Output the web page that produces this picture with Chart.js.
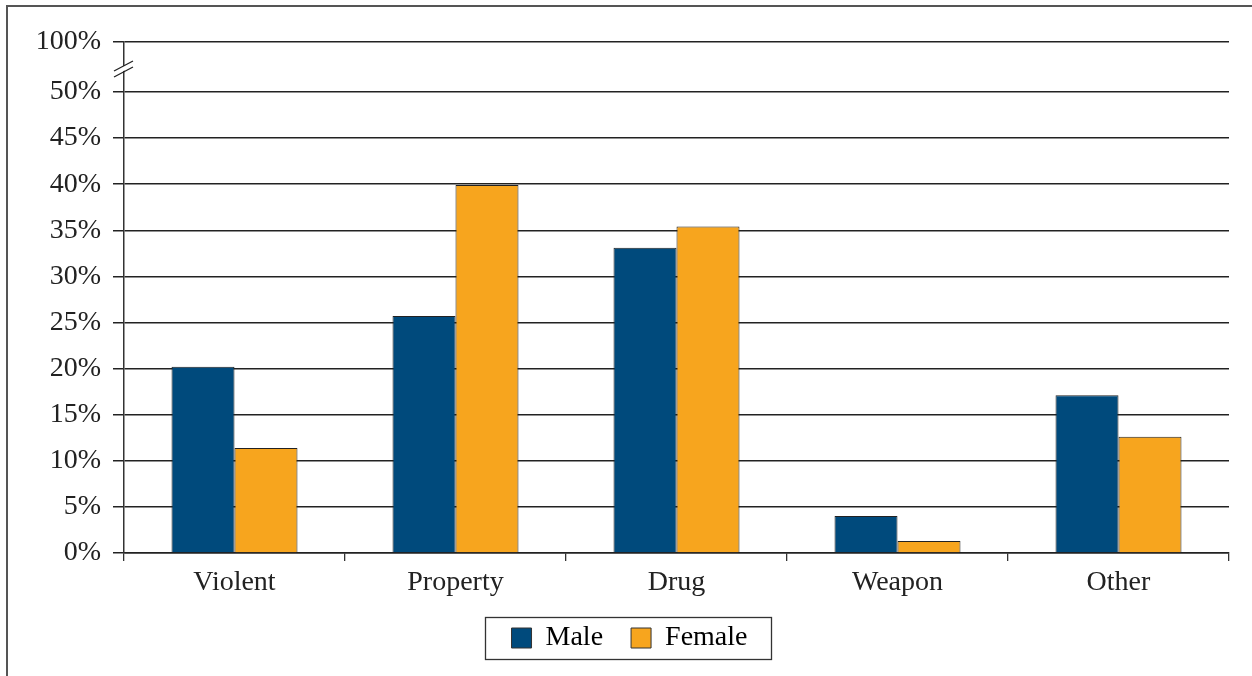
<!DOCTYPE html>
<html>
<head>
<meta charset="utf-8">
<script src="https://cdn.jsdelivr.net/npm/chart.js@4.4.1/dist/chart.umd.min.js"></script>
<style>
  html, body { margin: 0; padding: 0; background: #fff; }
  #wrap { width: 1252px; height: 676px; position: relative; }
</style>
</head>
<body>
<div id="wrap"><canvas id="mycanvas" width="1252" height="676"></canvas></div>
<script>
var categories = ['Violent', 'Property', 'Drug', 'Weapon', 'Other'];
var maleValues = [20.2, 25.7, 33.1, 4.0, 17.1];
var femaleValues = [11.4, 39.9, 35.4, 1.3, 12.6];
var yTickValues = [0, 5, 10, 15, 20, 25, 30, 35, 40, 45, 50];
var breakTickValue = 55.42;   // spot on the axis where the broken top tick sits
var breakTickLabel = '100%';

var serif = "'Liberation Serif', 'DejaVu Serif', serif";

// outer frame (left + top only) and the axis break mark
var decorPlugin = {
  id: 'decor',
  beforeDraw: function(chart){
    var ctx = chart.ctx;
    ctx.save();
    ctx.strokeStyle = '#555';
    ctx.lineWidth = 2;
    ctx.beginPath();
    ctx.moveTo(7, 676);
    ctx.lineTo(7, 6);
    ctx.lineTo(1252, 6);
    ctx.stroke();
    ctx.restore();
  },
  afterDraw: function(chart){
    var ctx = chart.ctx;
    var y = chart.scales.y;
    var x0 = chart.chartArea.left;
    var mid = (y.getPixelForValue(50) + y.getPixelForValue(breakTickValue)) / 2;
    ctx.save();
    ctx.fillStyle = '#fff';
    ctx.beginPath();
    ctx.moveTo(x0 - 10, mid + 4);
    ctx.lineTo(x0 + 9, mid - 6);
    ctx.lineTo(x0 + 9, mid - 1);
    ctx.lineTo(x0 - 10, mid + 9);
    ctx.closePath();
    ctx.fill();
    ctx.strokeStyle = '#222';
    ctx.lineWidth = 1.3;
    ctx.beginPath();
    ctx.moveTo(x0 - 10, mid + 4);
    ctx.lineTo(x0 + 9, mid - 6);
    ctx.moveTo(x0 - 10, mid + 10);
    ctx.lineTo(x0 + 9, mid);
    ctx.stroke();

    // box round the legend
    var boxes = chart.legend.legendHitBoxes;
    if (boxes && boxes.length) {
      var l = Infinity, r = -Infinity, t = Infinity, b = -Infinity;
      boxes.forEach(function(h){
        l = Math.min(l, h.left); r = Math.max(r, h.left + h.width);
        t = Math.min(t, h.top); b = Math.max(b, h.top + h.height);
      });
      ctx.strokeStyle = '#333';
      ctx.lineWidth = 1.3;
      ctx.strokeRect(Math.round(l - 27) + 0.5, Math.round(t - 7) + 0.5, Math.round(r - l + 50), Math.round(b - t + 14));
    }
    ctx.restore();
  }
};

Chart.defaults.font.family = serif;
Chart.defaults.font.size = 28;
Chart.defaults.color = '#222';

var ctx = document.getElementById('mycanvas');
var mycanvas = new Chart(ctx, {
  type: 'bar',
  data: {
    labels: categories,
    datasets: [{
      label: 'Male',
      data: maleValues,
      backgroundColor: '#004a7c',
      borderColor: '#222',
      borderWidth: 1,
      barPercentage: 1,
      categoryPercentage: 0.57
    }, {
      label: 'Female',
      data: femaleValues,
      backgroundColor: '#f7a51e',
      borderColor: '#222',
      borderWidth: 1,
      barPercentage: 1,
      categoryPercentage: 0.57
    }]
  },
  options: {
    responsive: false,
    animation: false,
    layout: { padding: { left: 30, right: 23, top: 42, bottom: 14 } },
    plugins: {
      legend: {
        position: 'bottom',
        labels: {
          boxWidth: 20,
          boxHeight: 20,
          padding: 28,
          color: '#222',
          font: { family: serif, size: 28 },
          generateLabels: function(chart){
            return chart.data.datasets.map(function(ds, i){
              return {
                text: ds.label,
                fillStyle: ds.backgroundColor,
                strokeStyle: '#333',
                lineWidth: 1,
                datasetIndex: i
              };
            });
          }
        }
      },
      tooltip: { enabled: false }
    },
    scales: {
      x: {
        grid: {
          display: true,
          drawOnChartArea: false,
          drawTicks: true,
          tickLength: 8,
          color: '#333',
          lineWidth: 1.3
        },
        border: { display: true, color: '#222', width: 1.5 },
        ticks: { padding: 5, color: '#222', font: { family: serif, size: 28 } },
        afterFit: function(scale){ scale.height = 43; }
      },
      y: {
        min: 0,
        max: breakTickValue,
        afterBuildTicks: function(scale){
          scale.ticks = yTickValues.concat([breakTickValue]).map(function(v){ return { value: v }; });
        },
        grid: {
          color: '#222',
          lineWidth: 1.5,
          tickLength: 11
        },
        border: { display: true, color: '#333', width: 1.5 },
        ticks: {
          padding: 12,
          color: '#222',
          font: { family: serif, size: 28 },
          callback: function(v){ return v > 50 ? breakTickLabel : v + '%'; }
        },
        afterFit: function(scale){ scale.width = 94; }
      }
    }
  },
  plugins: [decorPlugin]
});
</script>
</body>
</html>
